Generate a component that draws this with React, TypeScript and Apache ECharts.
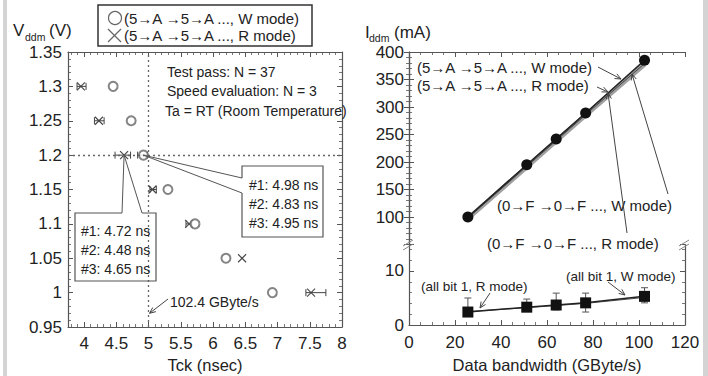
import React, { useEffect, useRef } from "react";
import * as echarts from "echarts";

// ---------- data ----------
// left panel: Vddm vs Tck
const vddLevels = [1.3, 1.25, 1.2, 1.15, 1.1, 1.05, 1.0];
const tckW = [4.45, 4.73, 4.92, 5.3, 5.72, 6.2, 6.92]; // circles, W mode
const tckWLo = [4.45, 4.73, 4.83, 5.3, 5.72, 6.2, 6.92];
const tckWHi = [4.45, 4.73, 4.98, 5.3, 5.72, 6.2, 6.92];
const tckR = [3.95, 4.23, 4.62, 5.06, 5.63, 6.45, 7.52]; // crosses, R mode
const tckRLo = [3.89, 4.16, 4.48, 5.02, 5.58, 6.45, 7.44];
const tckRHi = [4.03, 4.31, 4.72, 5.12, 5.67, 6.45, 7.75];

// right panel: Iddm vs data bandwidth
const bandwidth = [25.6, 51.2, 64, 76.8, 102.4];
const idd5AW = [100, 195, 242, 289, 385];
const idd5AR = [98, 192, 239, 286, 379];
const idd0FW = [99, 194, 241, 288, 383];
const idd0FR = [97, 191, 238, 285, 377];
const all1W = [2.4, 3.3, 3.7, 4.1, 5.3];
const all1R = [2.5, 3.2, 3.6, 4.0, 5.1];
const all1Lo = [1.8, 2.6, 2.8, 2.4, 4.1];
const all1Hi = [5.0, 4.8, 5.9, 5.9, 6.9];

const FONT = '"Liberation Sans", Arial, sans-serif';
const TXT = "#222";
const AX = "#555";

const axisLine = { show: true, lineStyle: { color: AX, width: 1.2 } };
const tick = { show: true, inside: true, length: 5, lineStyle: { color: AX, width: 1 } };
const minor = (n: number) => ({ show: true, splitNumber: n, length: 3, lineStyle: { color: AX, width: 0.8 } });
const lbl = { color: TXT, fontSize: 17, fontFamily: FONT };

function text(t: string, x: number, y: number, size = 14, align = "left") {
  return {
    type: "text",
    x,
    y,
    z: 50,
    style: { text: t, fill: TXT, fontSize: size, fontFamily: FONT, align, verticalAlign: "middle" },
  };
}
function line(x1: number, y1: number, x2: number, y2: number, color = "#444", w = 1) {
  return { type: "line", z: 50, shape: { x1, y1, x2, y2 }, style: { stroke: color, lineWidth: w } };
}
function arrow(x1: number, y1: number, x2: number, y2: number, color = "#444") {
  const a = Math.atan2(y2 - y1, x2 - x1);
  const L = 6, W = 2.6;
  const bx = x2 - L * Math.cos(a), by = y2 - L * Math.sin(a);
  const p1 = [bx + W * Math.sin(a), by - W * Math.cos(a)];
  const p2 = [bx - W * Math.sin(a), by + W * Math.cos(a)];
  return [
    line(x1, y1, x2, y2, color, 1),
    { type: "polyline", z: 50, shape: { points: [p1, [x2, y2], p2] }, style: { stroke: color, lineWidth: 1, fill: null } },
  ];
}

export default function App() {
  const ref = useRef<HTMLDivElement>(null);
  useEffect(() => {
    const chart = echarts.init(ref.current!, null, { renderer: "svg" });
    const rows = vddLevels.map((v, i) => [tckR[i], tckRLo[i], tckRHi[i], v]);
    const wRows = vddLevels.map((v, i) => [tckW[i], tckWLo[i], tckWHi[i], v]);
    const errRows = bandwidth.map((b, i) => [b, all1Lo[i], all1Hi[i]]);

    const hBars = (color: string, cross: boolean) => (params: any, api: any) => {
      const x = api.value(0), lo = api.value(1), hi = api.value(2), y = api.value(3);
      const c = api.coord([x, y]);
      const a = api.coord([lo, y]);
      const b = api.coord([hi, y]);
      const st = { stroke: color, lineWidth: 1 };
      const ch: any[] = [];
      if (hi > lo) {
        ch.push({ type: "line", shape: { x1: a[0], y1: a[1], x2: b[0], y2: b[1] }, style: st });
        ch.push({ type: "line", shape: { x1: a[0], y1: a[1] - 3.5, x2: a[0], y2: a[1] + 3.5 }, style: st });
        ch.push({ type: "line", shape: { x1: b[0], y1: b[1] - 3.5, x2: b[0], y2: b[1] + 3.5 }, style: st });
      }
      if (cross) {
        const s = 4;
        ch.push({ type: "line", shape: { x1: c[0] - s, y1: c[1] - s, x2: c[0] + s, y2: c[1] + s }, style: { stroke: "#444", lineWidth: 1.1 } });
        ch.push({ type: "line", shape: { x1: c[0] - s, y1: c[1] + s, x2: c[0] + s, y2: c[1] - s }, style: { stroke: "#444", lineWidth: 1.1 } });
      }
      return { type: "group", children: ch };
    };

    const option: any = {
      animation: false,
      backgroundColor: "#fff",
      grid: [
        { left: 68, top: 52, width: 274, height: 275 },
        { left: 409, top: 52, width: 276, height: 192.5 },
        { left: 409, top: 244.5, width: 276, height: 80.5 },
      ],
      xAxis: [
        {
          gridIndex: 0, type: "value", position: "bottom", min: 3.75, max: 8, splitNumber: 9,
          axisLine, axisTick: tick, minorTick: minor(5), splitLine: { show: false },
          axisLabel: { ...lbl, margin: 8, showMinLabel: false },
        },
        {
          gridIndex: 0, type: "value", position: "top", min: 3.75, max: 8, splitNumber: 9,
          axisLine, axisTick: tick, minorTick: minor(5), splitLine: { show: false }, axisLabel: { show: false },
        },
        { gridIndex: 1, type: "value", min: 0, max: 120, interval: 20, show: false },
        {
          gridIndex: 1, type: "value", position: "top", min: 0, max: 120, interval: 20,
          axisLine, axisTick: tick, minorTick: minor(4), splitLine: { show: false }, axisLabel: { show: false },
        },
        {
          gridIndex: 2, type: "value", position: "bottom", min: 0, max: 120, interval: 20,
          axisLine, axisTick: tick, minorTick: minor(4), splitLine: { show: false },
          axisLabel: { ...lbl, margin: 9 },
        },
      ],
      yAxis: [
        {
          gridIndex: 0, type: "value", position: "left", min: 0.95, max: 1.35, interval: 0.05,
          axisLine, axisTick: tick, minorTick: minor(5), splitLine: { show: false },
          axisLabel: { ...lbl, margin: 6 },
        },
        {
          gridIndex: 0, type: "value", position: "right", min: 0.95, max: 1.35, interval: 0.05,
          axisLine, axisTick: tick, minorTick: minor(5), splitLine: { show: false }, axisLabel: { show: false },
        },
        {
          gridIndex: 1, type: "value", position: "left", min: 50, max: 400, interval: 50,
          axisLine, axisTick: tick, minorTick: minor(5), splitLine: { show: false },
          axisLabel: { ...lbl, margin: 5, formatter: (v: number) => (v < 100 ? "" : String(v)) },
        },
        {
          gridIndex: 1, type: "value", position: "right", min: 50, max: 400, interval: 50,
          axisLine, axisTick: tick, minorTick: minor(5), splitLine: { show: false }, axisLabel: { show: false },
        },
        {
          gridIndex: 2, type: "value", position: "left", min: 0, max: 14.9, interval: 10,
          axisLine, axisTick: tick, minorTick: minor(5), splitLine: { show: false },
          axisLabel: { ...lbl, margin: 5, showMaxLabel: false, formatter: (v: number) => (v === 0 || v === 10 ? String(v) : "") },
        },
        {
          gridIndex: 2, type: "value", position: "right", min: 0, max: 14.9, interval: 10,
          axisLine, axisTick: tick, minorTick: minor(5), splitLine: { show: false }, axisLabel: { show: false },
        },
      ],
      series: [
        {
          type: "scatter", xAxisIndex: 0, yAxisIndex: 0, z: 4,
          data: vddLevels.map((v, i) => [tckW[i], v]),
          symbol: "emptyCircle", symbolSize: 9,
          itemStyle: { color: "#666", borderWidth: 1.2 },
          markLine: {
            silent: true, symbol: ["none", "none"], label: { show: false },
            lineStyle: { color: "#666", type: [2, 3], width: 1.3 },
            data: [{ yAxis: 1.2 }, { xAxis: 5 }],
          },
        },
        {
          type: "custom", xAxisIndex: 0, yAxisIndex: 0, z: 3,
          data: rows, encode: { x: [0, 1, 2], y: 3 },
          renderItem: hBars("#444", true),
        },
        {
          type: "custom", xAxisIndex: 0, yAxisIndex: 0, z: 3,
          data: wRows, encode: { x: [0, 1, 2], y: 3 },
          renderItem: hBars("#444", false),
        },
        {
          type: "line", xAxisIndex: 2, yAxisIndex: 2, data: bandwidth.map((b, i) => [b, idd0FR[i]]),
          symbol: "none", lineStyle: { color: "#a0a0a0", width: 4.5 },
        },
        {
          type: "line", xAxisIndex: 2, yAxisIndex: 2, data: bandwidth.map((b, i) => [b, idd0FW[i]]),
          symbol: "none", lineStyle: { color: "#777", width: 1 },
        },
        {
          type: "line", xAxisIndex: 2, yAxisIndex: 2, data: bandwidth.map((b, i) => [b, idd5AR[i]]),
          symbol: "none", lineStyle: { color: "#444", width: 1 },
        },
        {
          type: "line", xAxisIndex: 2, yAxisIndex: 2, data: bandwidth.map((b, i) => [b, idd5AW[i]]),
          symbol: "circle", symbolSize: 11, itemStyle: { color: "#111" }, lineStyle: { color: "#222", width: 1.5 },
        },
        {
          type: "custom", xAxisIndex: 4, yAxisIndex: 4, z: 2,
          data: errRows, encode: { x: 0, y: [1, 2] },
          renderItem: (params: any, api: any) => {
            const x = api.value(0);
            const a = api.coord([x, api.value(1)]);
            const b = api.coord([x, api.value(2)]);
            const st = { stroke: "#555", lineWidth: 1 };
            return {
              type: "group",
              children: [
                { type: "line", shape: { x1: a[0], y1: a[1], x2: b[0], y2: b[1] }, style: st },
                { type: "line", shape: { x1: a[0] - 3.5, y1: a[1], x2: a[0] + 3.5, y2: a[1] }, style: st },
                { type: "line", shape: { x1: b[0] - 3.5, y1: b[1], x2: b[0] + 3.5, y2: b[1] }, style: st },
              ],
            };
          },
        },
        {
          type: "line", xAxisIndex: 4, yAxisIndex: 4, data: bandwidth.map((b, i) => [b, all1R[i]]),
          symbol: "none", lineStyle: { color: "#555", width: 1 },
        },
        {
          type: "line", xAxisIndex: 4, yAxisIndex: 4, data: bandwidth.map((b, i) => [b, all1W[i]]),
          symbol: "rect", symbolSize: 11, itemStyle: { color: "#111" }, lineStyle: { color: "#222", width: 1.5 },
        },
      ],
    };
    chart.setOption(option);

    const pc = chart.convertToPixel({ seriesIndex: 0 }, [tckW[2], vddLevels[2]]) as number[];
    const pr = chart.convertToPixel({ seriesIndex: 0 }, [tckR[2], vddLevels[2]]) as number[];
    const pd = chart.convertToPixel({ seriesIndex: 0 }, [5, 0.97]) as number[];

    const g: any[] = [
      { type: "rect", shape: { x: 3, y: 0, width: 4, height: 376 }, style: { fill: "#d4d4d4" } },
      { type: "rect", shape: { x: 703, y: 0, width: 5, height: 376 }, style: { fill: "#d4d4d4" } },
      // left titles
      text("V", 13, 30, 17), text("ddm", 25, 37, 10.5), text("(V)", 49, 30, 17),
      text("Tck (nsec)", 205, 365, 16.5, "center"),
      // legend box
      { type: "rect", z: 50, shape: { x: 98, y: 5, width: 214, height: 41 }, style: { fill: null, stroke: "#333", lineWidth: 1.5 } },
      { type: "circle", z: 50, shape: { cx: 115, cy: 18, r: 6.5 }, style: { fill: null, stroke: "#666", lineWidth: 1.2 } },
      line(108, 29, 121, 42, "#666", 1.2), line(121, 29, 108, 42, "#666", 1.2),
      text("(5→A →5→A ..., W mode)", 124, 18, 15), text("(5→A →5→A ..., R mode)", 124, 35, 15),
      // stats
      text("Test pass: N = 37", 167, 72), text("Speed evaluation: N = 3", 167, 91),
      text("Ta = RT (Room Temperature)", 165, 111),
      // callout right
      { type: "polyline", z: 50, shape: { points: [[242, 178], [242, 166], [323, 166], [323, 237], [242, 237], [242, 193]] }, style: { fill: null, stroke: "#555", lineWidth: 1.2 } },
      line(pc[0], pc[1], 242, 178, "#555"), line(pc[0], pc[1], 242, 193, "#555"),
      text("#1: 4.98 ns", 249, 185), text("#2: 4.83 ns", 249, 204), text("#3: 4.95 ns", 249, 223),
      // callout left
      { type: "polyline", z: 50, shape: { points: [[122, 213], [75, 213], [75, 281], [156, 281], [156, 213], [142, 213]] }, style: { fill: null, stroke: "#555", lineWidth: 1.2 } },
      line(pr[0], pr[1], 122, 213, "#555"), line(pr[0], pr[1], 142, 213, "#555"),
      text("#1: 4.72 ns", 81, 231), text("#2: 4.48 ns", 81, 250), text("#3: 4.65 ns", 81, 269),
      // bandwidth label
      text("102.4 GByte/s", 170, 302),
      ...arrow(168, 299, pd[0] + 1, pd[1]),
      // right titles
      text("I", 365, 32, 17), text("ddm", 369, 38, 10.5), text("(mA)", 394, 32, 17),
      text("Data bandwidth (GByte/s)", 547, 365, 16.5, "center"),
      // right annotations
      text("(5→A →5→A ..., W mode)", 417, 67, 15), ...arrow(598, 67, 621, 79),
      text("(5→A →5→A ..., R mode)", 417, 85, 15), ...arrow(597, 87, 608, 92),
      text("(0→F →0→F ..., W mode)", 497, 205, 15), ...arrow(668, 194, 632, 74),
      text("(0→F →0→F ..., R mode)", 487, 243, 15), ...arrow(627, 233, 608, 93),
      text("(all bit 1, W mode)", 566, 276, 13.5), ...arrow(608, 282, 625, 295),
      text("(all bit 1, R mode)", 421, 286, 13.5), ...arrow(490, 293, 480, 308),
      // axis break marks
      line(403, 246, 413, 240, "#888"), line(403, 250, 413, 244, "#888"),
      line(679, 246, 689, 240, "#888"), line(679, 250, 689, 244, "#888"),
    ];
    chart.setOption({ graphic: g });
    return () => chart.dispose();
  }, []);
  return (
    <div
      ref={ref}
      style={{ position: "fixed", left: 0, top: 0, width: 708, height: 376, background: "#fff" }}
    />
  );
}
